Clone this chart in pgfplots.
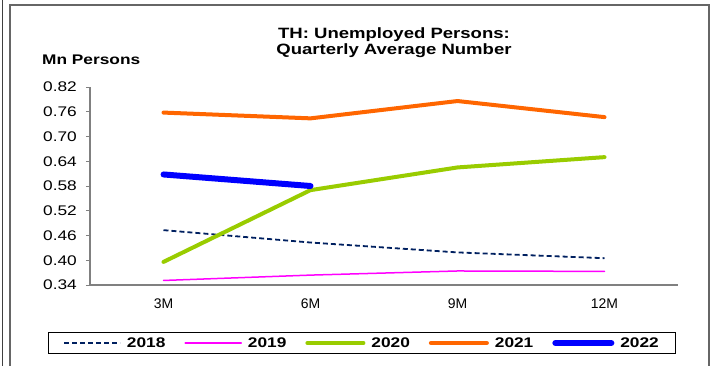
\documentclass[border=0pt]{standalone}
\usepackage{pgfplots}
\pgfplotsset{compat=1.18}
\usepackage{graphicx}
\usepackage{fontspec}
\setmainfont{Liberation Sans}
\newcommand{\sx}[1]{\scalebox{1.24}[1]{#1}}
\definecolor{c18}{RGB}{0,32,96}
\definecolor{c19}{RGB}{255,0,255}
\definecolor{c20}{RGB}{153,204,0}
\definecolor{c21}{RGB}{255,102,0}
\definecolor{c22}{RGB}{0,0,255}
\begin{document}
\begin{tikzpicture}[x=1bp,y=1bp]
\useasboundingbox (-90,-80) rectangle (622,285);
\draw[black!75, line width=1bp] (-87,-82) -- (-87,287);
\draw[black!60, line width=1.5bp] (-80,-82) -- (-80,280) -- (619,280) -- (619,-82);
\node[anchor=base, inner sep=0pt, font=\fontsize{15}{18}\selectfont\bfseries] at (304,247) {\sx{TH: Unemployed Persons:}};
\node[anchor=base, inner sep=0pt, font=\fontsize{15}{18}\selectfont\bfseries] at (304,231) {\sx{Quarterly Average Number}};
\node[anchor=base west, inner sep=0pt, font=\fontsize{14}{16}\selectfont\bfseries] at (-48,221) {\sx{Mn Persons}};
\begin{axis}[
  scale only axis, width=588bp, height=198bp,
  xmin=0.5, xmax=4.5, ymin=0.34, ymax=0.82,
  axis x line*=bottom, axis y line*=left,
  axis line style={black!50, line width=1.5bp},
  tick align=outside,
  xtick={1,2,3,4}, xticklabels={3M,6M,9M,12M},
  minor xtick={0.5,1.5,2.5,3.5,4.5},
  xtick style={draw=none},
  minor tick length=5bp, major tick length=4bp,
  every tick/.style={black!50, line width=1bp},
  ytick={0.34,0.40,0.46,0.52,0.58,0.64,0.70,0.76,0.82},
  /pgf/number format/assume math mode=true,
  yticklabel={\sx{\pgfmathprintnumber[fixed,fixed zerofill,precision=2]{\tick}}},
  xticklabel style={font=\fontsize{14}{16}\selectfont, inner sep=0pt, yshift=-10bp},
  yticklabel style={font=\fontsize{14}{16}\selectfont, inner sep=0pt, xshift=-9bp},
  every axis plot/.append style={line cap=round, line join=round},
  legend columns=5,
  legend image code/.code={\draw[#1] (0bp,0bp) -- (56bp,0bp);},
  legend style={at={(0.4626,-0.293)}, anchor=center, draw=black, line width=1bp,
    font=\fontsize{14}{16}\selectfont\bfseries, inner xsep=15bp, inner ysep=3bp,
    /tikz/every odd column/.append style={column sep=4bp},
    /tikz/every even column/.append style={column sep=17bp}},
]
\addplot[c18, line width=1.8bp, dash pattern=on 5bp off 3bp, line cap=butt] coordinates {(1,0.473) (2,0.443) (3,0.419) (4,0.405)};
\addlegendentry{\sx{2018}}
\addplot[c19, line width=1.5bp] coordinates {(1,0.351) (2,0.364) (3,0.374) (4,0.373)};
\addlegendentry{\sx{2019}}
\addplot[c20, line width=4bp] coordinates {(1,0.396) (2,0.570) (3,0.625) (4,0.650)};
\addlegendentry{\sx{2020}}
\addplot[c21, line width=4bp] coordinates {(1,0.758) (2,0.744) (3,0.786) (4,0.747)};
\addlegendentry{\sx{2021}}
\addplot[c22, line width=6bp] coordinates {(1,0.608) (2,0.580)};
\addlegendentry{\sx{2022}}
\end{axis}
\end{tikzpicture}
\end{document}
